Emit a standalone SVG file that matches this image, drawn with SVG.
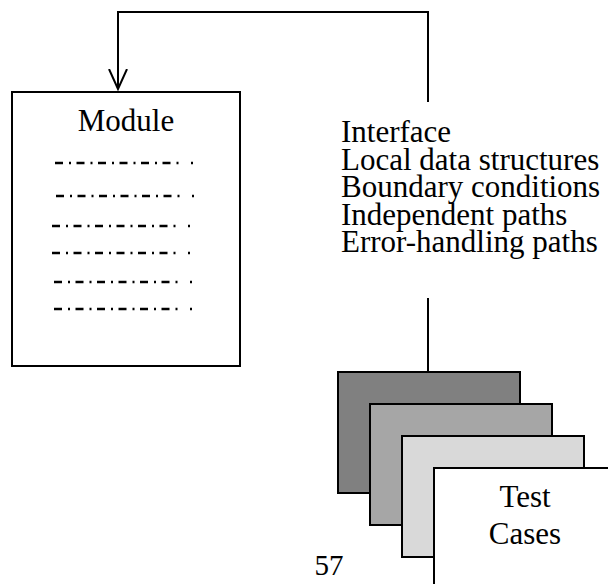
<svg xmlns="http://www.w3.org/2000/svg" width="608" height="584" viewBox="0 0 608 584">
  <style>
    .lbl { font-family: "Liberation Serif", "Times New Roman", serif; font-size: 31px; fill: #000; }
    .mid { text-anchor: middle; }
    .box { stroke: #000; stroke-width: 2; }
    .wire { fill: none; stroke: #000; stroke-width: 2; }
    .dd { fill: none; stroke: #000; stroke-width: 2.4; }
  </style>
  <defs>
    <marker id="openArrow" viewBox="0 0 22 22" refX="20" refY="11" markerWidth="22" markerHeight="22" markerUnits="userSpaceOnUse" orient="auto">
      <path d="M0,2 L20,11 L0,20" fill="none" stroke="#000" stroke-width="2"/>
    </marker>
    <!-- dash-dot placeholder line used inside the module box -->
    <g id="dashdot">
      <path class="dd" d="M0,0 H126" stroke-dasharray="8 6 2 5.5"/>
      <path class="dd" d="M136,0 H138"/>
    </g>
  </defs>

  <!-- connectors -->
  <g id="connectors">
    <path class="wire" d="M428,102 V12 H118 V89" marker-end="url(#openArrow)"/>
    <path class="wire" d="M428,298 V372"/>
  </g>

  <!-- module -->
  <g id="module">
    <rect class="box" x="12" y="92" width="228" height="274" fill="#fff"/>
    <text class="lbl mid" x="126" y="131">Module</text>
    <use href="#dashdot" x="55" y="163"/>
    <use href="#dashdot" x="56" y="196"/>
    <use href="#dashdot" x="52" y="226"/>
    <use href="#dashdot" x="52" y="253"/>
    <use href="#dashdot" x="54" y="282"/>
    <use href="#dashdot" x="54" y="309"/>
  </g>

  <!-- aspects under test -->
  <g id="aspects">
    <text class="lbl" x="341" y="142">Interface</text>
    <text class="lbl" x="341" y="169.5">Local data structures</text>
    <text class="lbl" x="341" y="197">Boundary conditions</text>
    <text class="lbl" x="341" y="224.5">Independent paths</text>
    <text class="lbl" x="341" y="252">Error-handling paths</text>
  </g>

  <!-- stacked test case sheets -->
  <g id="test-cases">
    <rect class="box" x="338" y="372" width="182" height="121" fill="#808080"/>
    <rect class="box" x="370" y="404" width="182" height="121" fill="#a6a6a6"/>
    <rect class="box" x="402" y="436" width="182" height="121" fill="#d9d9d9"/>
    <rect class="box" x="434" y="468" width="182" height="130" fill="#fff"/>
    <text class="lbl mid" x="525" y="507">Test</text>
    <text class="lbl mid" x="525" y="544">Cases</text>
  </g>

  <!-- page number -->
  <g id="page-number">
    <text class="lbl mid" x="329" y="575" style="font-size:29px">57</text>
  </g>
</svg>
